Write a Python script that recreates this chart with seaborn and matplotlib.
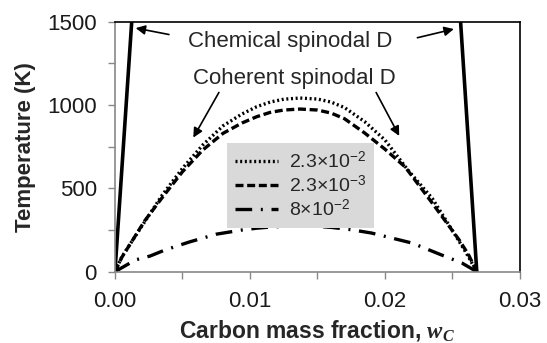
import numpy as np
import pandas as pd
import matplotlib
matplotlib.use("Agg")
import matplotlib.pyplot as plt
import seaborn as sns
from matplotlib.ticker import MultipleLocator

# ---- data ----
chem_left_x = [0.0, 0.00124]
chem_left_T = [0, 1500]
chem_right_x = [0.0268, 0.0256]
chem_right_T = [0, 1500]

dot_x = [0.0, 0.0005, 0.0018, 0.0035, 0.0050, 0.0065, 0.0080, 0.0094, 0.0105, 0.0115,
         0.0125, 0.0137, 0.0150, 0.0160, 0.0170, 0.0185, 0.0200, 0.0217, 0.0235,
         0.0252, 0.0260, 0.0268]
dot_T = [0, 88, 250, 460, 620, 760, 875, 946, 990, 1018,
         1035, 1042, 1036, 1018, 985, 900, 790, 610, 440,
         220, 115, 0]

dash_x = [0.0, 0.0005, 0.0022, 0.0035, 0.0050, 0.0065, 0.0080, 0.0094, 0.0105, 0.0115,
          0.0125, 0.0137, 0.0150, 0.0160, 0.0170, 0.0185, 0.0200, 0.0215, 0.0235,
          0.0255, 0.0262, 0.0268]
dash_T = [0, 85, 305, 445, 600, 730, 830, 892, 930, 956,
          970, 976, 970, 952, 918, 832, 735, 628, 412,
          190, 100, 0]

dd_x = [0.0, 0.0015, 0.0026, 0.0037, 0.0055, 0.0075, 0.0094, 0.0105, 0.0115, 0.0125,
        0.0137, 0.0150, 0.0160, 0.0175, 0.0190, 0.0220, 0.0242, 0.0257, 0.0268]
dd_T = [0, 70, 94, 130, 178, 225, 250, 261, 268, 272,
        274, 272, 266, 252, 232, 172, 100, 52, 0]

series_labels = ["2.3×10$^{-2}$", "2.3×10$^{-3}$", "8×10$^{-2}$"]

x_ticks = [0.00, 0.01, 0.02, 0.03]
y_ticks = [0, 500, 1000, 1500]

# ---- styling ----
sns.set_style("white")
plt.rcParams['font.family'] = ['Liberation Sans', 'DejaVu Sans']
plt.rcParams['mathtext.fontset'] = 'custom'
plt.rcParams['mathtext.rm'] = 'Liberation Sans'
plt.rcParams['mathtext.it'] = 'Liberation Serif:italic:bold'
plt.rcParams['mathtext.bf'] = 'Liberation Sans:bold'

fig = plt.figure(figsize=(5.47, 3.43), dpi=100)
ax = fig.add_axes([0.2102, 0.2079, 0.7404, 0.7288])

df_dot = pd.DataFrame({"x": dot_x, "T": dot_T})
df_dash = pd.DataFrame({"x": dash_x, "T": dash_T})
df_dd = pd.DataFrame({"x": dd_x, "T": dd_T})

sns.lineplot(x=chem_left_x, y=chem_left_T, ax=ax, color="black", lw=2.6, sort=False)
sns.lineplot(x=chem_right_x, y=chem_right_T, ax=ax, color="black", lw=2.6, sort=False)
sns.lineplot(data=df_dot, x="x", y="T", ax=ax, color="black", lw=2.4, sort=False,
             linestyle=(0, (0.6, 0.8)), label=series_labels[0])
sns.lineplot(data=df_dash, x="x", y="T", ax=ax, color="black", lw=2.4, sort=False,
             linestyle=(0, (2.4, 1.1)), label=series_labels[1])
sns.lineplot(data=df_dd, x="x", y="T", ax=ax, color="black", lw=2.4, sort=False,
             linestyle=(0, (5.0, 2.6, 0.6, 2.6)), label=series_labels[2])

ax.set_xlim(0, 0.03)
ax.set_ylim(0, 1500)
ax.set_xticks(x_ticks)
ax.set_xticklabels([f"{v:.2f}" for v in x_ticks])
ax.set_yticks(y_ticks)
ax.set_yticklabels([str(v) for v in y_ticks])
ax.xaxis.set_minor_locator(MultipleLocator(0.005))
ax.yaxis.set_minor_locator(MultipleLocator(250))
ax.tick_params(axis='both', which='both', direction='out', color='#888888',
               length=5, width=1, labelsize=16, labelcolor='#1a1a1a')
ax.tick_params(axis='x', which='both', bottom=True, pad=9)
ax.tick_params(axis='y', which='both', left=True, pad=8)

for s in ['left', 'bottom']:
    ax.spines[s].set_color('#888888')
    ax.spines[s].set_linewidth(1.2)
for s in ['top', 'right']:
    ax.spines[s].set_color('black')
    ax.spines[s].set_linewidth(1.2)

ax.set_ylabel("Temperature (K)", fontsize=16, fontweight='bold', labelpad=8)
ax.set_xlabel("Carbon mass fraction, $w_C$", fontsize=16.5, fontweight='bold', labelpad=4)

leg = ax.legend(loc='upper left', bbox_to_anchor=(0.277, 0.515), frameon=True,
                fontsize=14, handlelength=2.2, handletextpad=0.6, borderpad=0.4,
                labelspacing=0.15, fancybox=False, borderaxespad=0)
leg.get_frame().set_facecolor('#d9d9d9')
leg.get_frame().set_edgecolor('none')
leg.get_frame().set_alpha(1)

# annotations
ax.text(0.01295, 1380, "Chemical spinodal D", fontsize=16, ha='center', va='center')
ax.text(0.0133, 1160, "Coherent spinodal D", fontsize=16, ha='center', va='center')
arrow = dict(arrowstyle='-|>', color='black', lw=1.2, mutation_scale=14)
ax.annotate("", xy=(0.00133, 1465), xytext=(0.0042, 1420), arrowprops=arrow)
ax.annotate("", xy=(0.0253, 1460), xytext=(0.0222, 1400), arrowprops=arrow)
ax.annotate("", xy=(0.00570, 790), xytext=(0.00780, 1090), arrowprops=arrow)
ax.annotate("", xy=(0.02115, 800), xytext=(0.01925, 1090), arrowprops=arrow)

fig.savefig("out.png", dpi=100)
